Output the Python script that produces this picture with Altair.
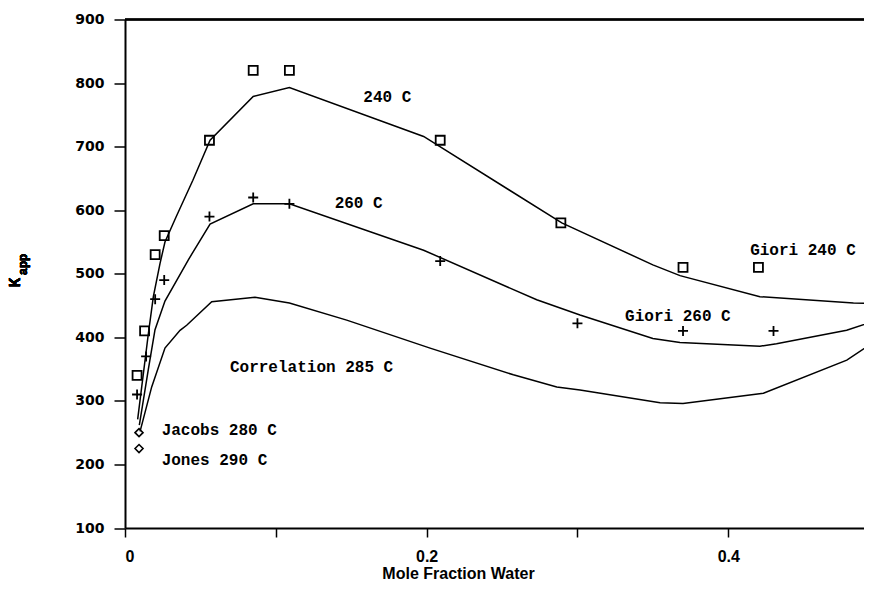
import altair as alt
import pandas as pd

# ---- data ----
sq240_x = [0.008, 0.013, 0.020, 0.026, 0.056, 0.085, 0.109, 0.209, 0.289, 0.370, 0.420]
sq240_y = [340, 410, 530, 560, 710, 820, 820, 710, 580, 510, 510]

plus260_x = [0.008, 0.014, 0.020, 0.026, 0.056, 0.085, 0.109, 0.209, 0.300, 0.370, 0.430]
plus260_y = [310, 370, 460, 490, 590, 620, 610, 520, 422, 410, 410]

diam_x = [0.0093, 0.0093]
diam_y = [250, 225]

c240_x = [0.0084, 0.0155, 0.0188, 0.0232, 0.0265, 0.034, 0.045, 0.0564, 0.085, 0.109,
          0.198, 0.2896, 0.350, 0.368, 0.421, 0.483, 0.495]
c240_y = [271, 406, 464, 516, 550, 590, 647, 710, 779, 793,
          716, 580, 514, 497, 464, 454, 453]

c260_x = [0.0095, 0.0155, 0.0199, 0.0265, 0.042, 0.0564, 0.085, 0.109, 0.198, 0.273,
          0.3017, 0.350, 0.368, 0.421, 0.432, 0.4785, 0.495]
c260_y = [262, 350, 412, 457, 522, 578, 610, 610, 537, 459,
          435, 398, 392, 386, 390, 411, 424]

corr_x = [0.010, 0.0177, 0.0265, 0.0365, 0.0409, 0.0575, 0.0862, 0.109, 0.147, 0.2023,
          0.2575, 0.2863, 0.3017, 0.3548, 0.370, 0.4233, 0.4786, 0.495]
corr_y = [252, 322, 383, 411, 419, 456, 463, 454, 427, 383,
          341, 322, 317, 297, 296, 312, 364, 390]

label_text = ["240 C", "260 C", "Correlation 285 C", "Jacobs 280 C", "Jones 290 C",
              "Giori 240 C", "Giori 260 C"]
label_x = [0.158, 0.139, 0.0696, 0.0243, 0.0243, 0.4145, 0.3316]
label_y = [778, 612, 354, 254, 207, 538, 433]

x_ticks = [0, 0.1, 0.2, 0.3, 0.4]
y_ticks = [100, 200, 300, 400, 500, 600, 700, 800, 900]

# ---- build tables ----
rows = []
for name, xs_, ys_ in [("240", c240_x, c240_y), ("260", c260_x, c260_y), ("corr", corr_x, corr_y)]:
    for i, (a, b) in enumerate(zip(xs_, ys_)):
        rows.append({"series": name, "i": i, "x": a, "y": b})
curves = pd.DataFrame(rows)
squares = pd.DataFrame({"x": sq240_x, "y": sq240_y})
pluses = pd.DataFrame({"x": plus260_x, "y": plus260_y})
diams = pd.DataFrame({"x": diam_x, "y": diam_y})
labels = pd.DataFrame({"t": label_text, "x": label_x, "y": label_y})

W = 739
H = 508.5

xs = alt.Scale(domain=[0, 0.49], nice=False, zero=False)
ys = alt.Scale(domain=[100, 900], nice=False, zero=False)

x_axis = alt.Axis(
    values=x_ticks,
    labelExpr="datum.value == 0 ? '0' : ((abs(datum.value - 0.2) < 1e-6 || abs(datum.value - 0.4) < 1e-6) ? format(datum.value, '.1f') : '')",
    tickSize=9, labelPadding=11, labelFont="Liberation Sans", labelFontWeight="bold",
    labelFontSize=16, labelColor="black",
    title="Mole Fraction Water", titleFont="Liberation Sans", titleFontWeight="bold",
    titleFontSize=16, titleColor="black", titleX=333, titleY=50.5,
    titleAlign="center", titleBaseline="alphabetic", grid=False,
)
y_axis = alt.Axis(
    values=y_ticks, tickSize=11, labelPadding=10, labelFont="DejaVu Sans",
    labelFontWeight="bold", labelFontSize=14, labelColor="black", title=None, grid=False,
)

X = alt.X("x:Q", scale=xs, axis=x_axis)
Y = alt.Y("y:Q", scale=ys, axis=y_axis)

lines = alt.Chart(curves).mark_line(color="black", strokeWidth=1.5, clip=True).encode(
    x=X, y=Y, detail="series:N", order="i:Q"
)
sq = alt.Chart(squares).mark_point(shape="square", filled=False, size=81, strokeWidth=1.8,
                                   color="black", opacity=1).encode(x="x:Q", y="y:Q")
pl = alt.Chart(pluses).mark_point(shape="M-1,0L1,0M0,-1L0,1", filled=False, size=100,
                                  strokeWidth=1.8, color="black", opacity=1).encode(x="x:Q", y="y:Q")
dm = alt.Chart(diams).mark_point(shape="diamond", filled=False, size=64, strokeWidth=1.6,
                                 color="black", opacity=1).encode(x="x:Q", y="y:Q")
txt = alt.Chart(labels).mark_text(font="Liberation Mono", fontWeight="bold", fontSize=16,
                                  align="left", baseline="middle", color="black").encode(
    x="x:Q", y="y:Q", text="t:N"
)
top = alt.Chart(labels).mark_rule(color="black", strokeWidth=1.5).encode(
    x=alt.value(0), x2=alt.value(W), y=alt.value(0)
)
k1 = alt.Chart(labels).mark_text(text="K", font="Liberation Mono", fontWeight="bold",
                                 fontSize=16, angle=270, align="center", baseline="middle",
                                 color="black").encode(x=alt.value(-110), y=alt.value(263))
k2 = alt.Chart(labels).mark_text(text="app", font="Liberation Mono", fontWeight="bold",
                                 fontSize=12, angle=270, align="center", baseline="middle",
                                 color="black").encode(x=alt.value(-102), y=alt.value(245))

chart = alt.layer(lines, sq, pl, dm, txt, top, k1, k2).properties(
    width=W, height=H,
    autosize=alt.AutoSizeParams(type="none"),
    padding={"left": 117, "top": 11.5, "right": 0, "bottom": 53},
).configure_view(stroke=None).configure_axis(
    domainColor="black", domainWidth=2, tickColor="black", tickWidth=1.5
)

chart.save("out.html", embed_options={"renderer": "svg", "actions": False})
